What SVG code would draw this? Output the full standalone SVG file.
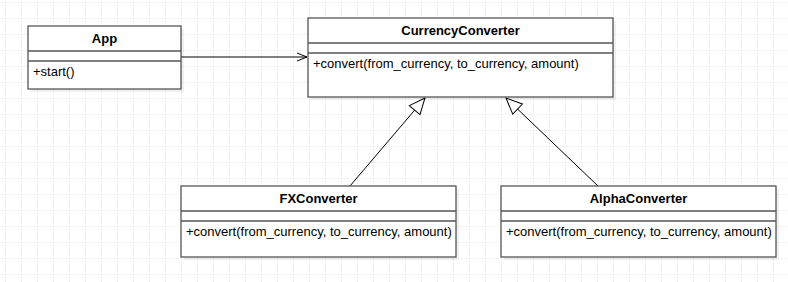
<svg xmlns="http://www.w3.org/2000/svg" width="788" height="282" viewBox="0 0 788 282">
<style>
.box{fill:#ffffff;stroke:#555555;stroke-width:1.3}
.sh{fill:#000000;fill-opacity:0.06}
.sep{stroke:#555555;stroke-width:1.3;fill:none}
.t{font-family:"Liberation Sans",Arial,sans-serif;font-size:13px;fill:#000000}
.b{font-weight:bold;text-anchor:middle}
.edge{stroke:#000000;stroke-width:1;fill:none}
</style>
<defs>
<pattern id="grid" x="5" y="2" width="16" height="16" patternUnits="userSpaceOnUse">
<path d="M0 0H16M0 0V16" stroke="#ebebeb" stroke-width="1.2" fill="none"/>
</pattern>
<marker id="open" markerWidth="12" markerHeight="12" refX="10" refY="6" orient="auto" markerUnits="userSpaceOnUse">
<path d="M0 2L10 6L0 10" fill="none" stroke="#000" stroke-width="1"/>
</marker>
<marker id="tri" markerWidth="20" markerHeight="20" refX="17" refY="8" orient="auto" markerUnits="userSpaceOnUse">
<path d="M1 1L17 8L1 15Z" fill="#fff" stroke="#000" stroke-width="1"/>
</marker>
</defs>
<rect width="788" height="282" fill="#ffffff"/>
<rect width="788" height="282" fill="url(#grid)"/>
<g id="connectors">
<line class="edge" x1="181" y1="57" x2="307" y2="57" marker-end="url(#open)"/>
<line class="edge" x1="350" y1="186" x2="425" y2="98" marker-end="url(#tri)"/>
<line class="edge" x1="598" y1="186" x2="506" y2="98" marker-end="url(#tri)"/>
</g>
<g id="App">
<rect class="sh" x="31" y="29" width="153" height="63"/>
<rect class="box" x="28" y="26" width="153" height="63"/>
<line class="sep" x1="28" y1="51" x2="181" y2="51"/>
<line class="sep" x1="28" y1="61" x2="181" y2="61"/>
<text class="t b" x="104.5" y="43">App</text>
<text class="t" x="33" y="76">+start()</text>
</g>
<g id="CurrencyConverter">
<rect class="sh" x="311" y="21" width="305" height="79"/>
<rect class="box" x="308" y="18" width="305" height="79"/>
<line class="sep" x1="308" y1="43" x2="613" y2="43"/>
<line class="sep" x1="308" y1="53" x2="613" y2="53"/>
<text class="t b" x="460.5" y="35">CurrencyConverter</text>
<text class="t" x="313" y="68">+convert(from_currency, to_currency, amount)</text>
</g>
<g id="FXConverter">
<rect class="sh" x="184" y="189" width="275" height="71"/>
<rect class="box" x="181" y="186" width="275" height="71"/>
<line class="sep" x1="181" y1="211" x2="456" y2="211"/>
<line class="sep" x1="181" y1="221" x2="456" y2="221"/>
<text class="t b" x="318.5" y="203">FXConverter</text>
<text class="t" x="186" y="236">+convert(from_currency, to_currency, amount)</text>
</g>
<g id="AlphaConverter">
<rect class="sh" x="504" y="189" width="275" height="71"/>
<rect class="box" x="501" y="186" width="275" height="71"/>
<line class="sep" x1="501" y1="211" x2="776" y2="211"/>
<line class="sep" x1="501" y1="221" x2="776" y2="221"/>
<text class="t b" x="638.5" y="203">AlphaConverter</text>
<text class="t" x="506" y="236">+convert(from_currency, to_currency, amount)</text>
</g>
</svg>
